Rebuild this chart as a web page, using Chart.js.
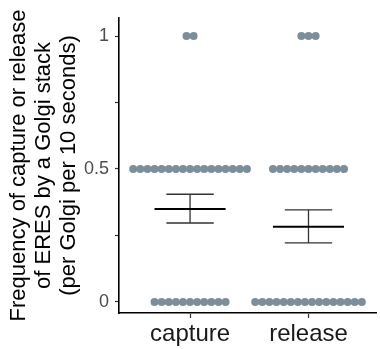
<!DOCTYPE html>
<html lang="en">
<head>
    <meta charset="UTF-8">
    <title>Capture / release frequency</title>
    <style>
        html, body { margin: 0; padding: 0; background: #fff; }
        #wrap { width: 380px; height: 349px; }
    </style>
</head>
<body>
<div id="wrap"><canvas id="myChart" width="380" height="349"></canvas></div>

<script src="https://cdn.jsdelivr.net/npm/chart.js"></script>
<script>
    // data
    var categories = ['capture', 'release'];
    var captureValues = [0, 0, 0, 0, 0, 0, 0, 0, 0, 0, 0,
        0.5, 0.5, 0.5, 0.5, 0.5, 0.5, 0.5, 0.5, 0.5, 0.5, 0.5, 0.5, 0.5, 0.5, 0.5, 0.5, 0.5,
        1, 1];
    var releaseValues = [0, 0, 0, 0, 0, 0, 0, 0, 0, 0, 0, 0, 0, 0, 0, 0,
        0.5, 0.5, 0.5, 0.5, 0.5, 0.5, 0.5, 0.5, 0.5, 0.5, 0.5,
        1, 1, 1];
    var means = [0.35, 0.283];
    var seUpper = [0.405, 0.346];
    var seLower = [0.297, 0.222];
    var yTicks = [0, 0.25, 0.5, 0.75, 1];

    var dotStep = 0.06; // horizontal spacing of stacked dots (x units)

    // centre the dots of each value around the category position
    function dotPoints(values, catIndex) {
        var groups = {};
        values.forEach(function (v) { (groups[v] = groups[v] || []).push(v); });
        var pts = [];
        Object.keys(groups).forEach(function (k) {
            var n = groups[k].length;
            for (var j = 0; j < n; j++) {
                pts.push({ x: catIndex + 1 + (j - (n - 1) / 2) * dotStep, y: parseFloat(k) });
            }
        });
        return pts;
    }

    // mean line + standard error bars
    var errorBars = {
        id: 'errorBars',
        afterDatasetsDraw: function (chart) {
            var ctx = chart.ctx, xs = chart.scales.x, ys = chart.scales.y;
            ctx.save();
            categories.forEach(function (c, i) {
                var cx = xs.getPixelForValue(i + 1);
                var halfMean = xs.getPixelForValue(i + 1 + 0.3) - cx;
                var halfCap = xs.getPixelForValue(i + 1 + 0.2) - cx;
                var yU = ys.getPixelForValue(seUpper[i]);
                var yL = ys.getPixelForValue(seLower[i]);
                var yM = ys.getPixelForValue(means[i]);

                ctx.strokeStyle = '#333';
                ctx.lineWidth = 1.3;
                ctx.beginPath();
                ctx.moveTo(cx, yU); ctx.lineTo(cx, yL);
                ctx.moveTo(cx - halfCap, yU); ctx.lineTo(cx + halfCap, yU);
                ctx.moveTo(cx - halfCap, yL); ctx.lineTo(cx + halfCap, yL);
                ctx.stroke();

                ctx.strokeStyle = '#000';
                ctx.lineWidth = 2;
                ctx.beginPath();
                ctx.moveTo(cx - halfMean, yM); ctx.lineTo(cx + halfMean, yM);
                ctx.stroke();
            });
            ctx.restore();
        }
    };

    var ctx = document.getElementById('myChart').getContext('2d');
    var myChart = new Chart(ctx, {
        type: 'scatter',
        data: {
            datasets: [{
                data: dotPoints(captureValues, 0).concat(dotPoints(releaseValues, 1)),
                backgroundColor: '#7d8e9b',
                borderWidth: 0,
                pointRadius: 4,
                pointHoverRadius: 4
            }]
        },
        options: {
            responsive: false,
            animation: false,
            layout: { padding: { top: 18, right: 0, left: 0, bottom: 0 } },
            plugins: {
                legend: { display: false },
                tooltip: { enabled: false }
            },
            scales: {
                x: {
                    type: 'linear',
                    min: 0.4,
                    max: 2.57,
                    afterBuildTicks: function (scale) {
                        scale.ticks = [{ value: 1 }, { value: 2 }];
                    },
                    afterFit: function (scale) { scale.height = 36; },
                    ticks: {
                        callback: function (v) { return categories[v - 1]; },
                        color: '#1a1a1a',
                        font: { family: 'Liberation Sans', size: 24 },
                        padding: 2,
                        maxRotation: 0
                    },
                    grid: { drawOnChartArea: false, tickLength: 5, color: '#333', tickWidth: 1.2 },
                    border: { color: '#000', width: 1.6 }
                },
                y: {
                    min: -0.0414,
                    max: 1.0677,
                    afterBuildTicks: function (scale) {
                        scale.ticks = yTicks.map(function (v) { return { value: v }; });
                    },
                    afterFit: function (scale) { scale.width = 119; },
                    ticks: {
                        callback: function (v) { return (v === 0 || v === 0.5 || v === 1) ? String(v) : ''; },
                        color: '#4d4d4d',
                        font: { family: 'Liberation Sans', size: 18 },
                        padding: 6
                    },
                    grid: { drawOnChartArea: false, tickLength: 4, color: '#333', tickWidth: 1.2 },
                    border: { color: '#000', width: 1.6 },
                    title: {
                        display: true,
                        text: ['Frequency of capture or release', 'of ERES by a Golgi stack', '(per Golgi per 10 seconds)'],
                        color: '#000',
                        font: { family: 'Liberation Sans', size: 22, lineHeight: 1.12 },
                        padding: { top: 7, bottom: 0 }
                    }
                }
            }
        },
        plugins: [errorBars]
    });
</script>
</body>
</html>
